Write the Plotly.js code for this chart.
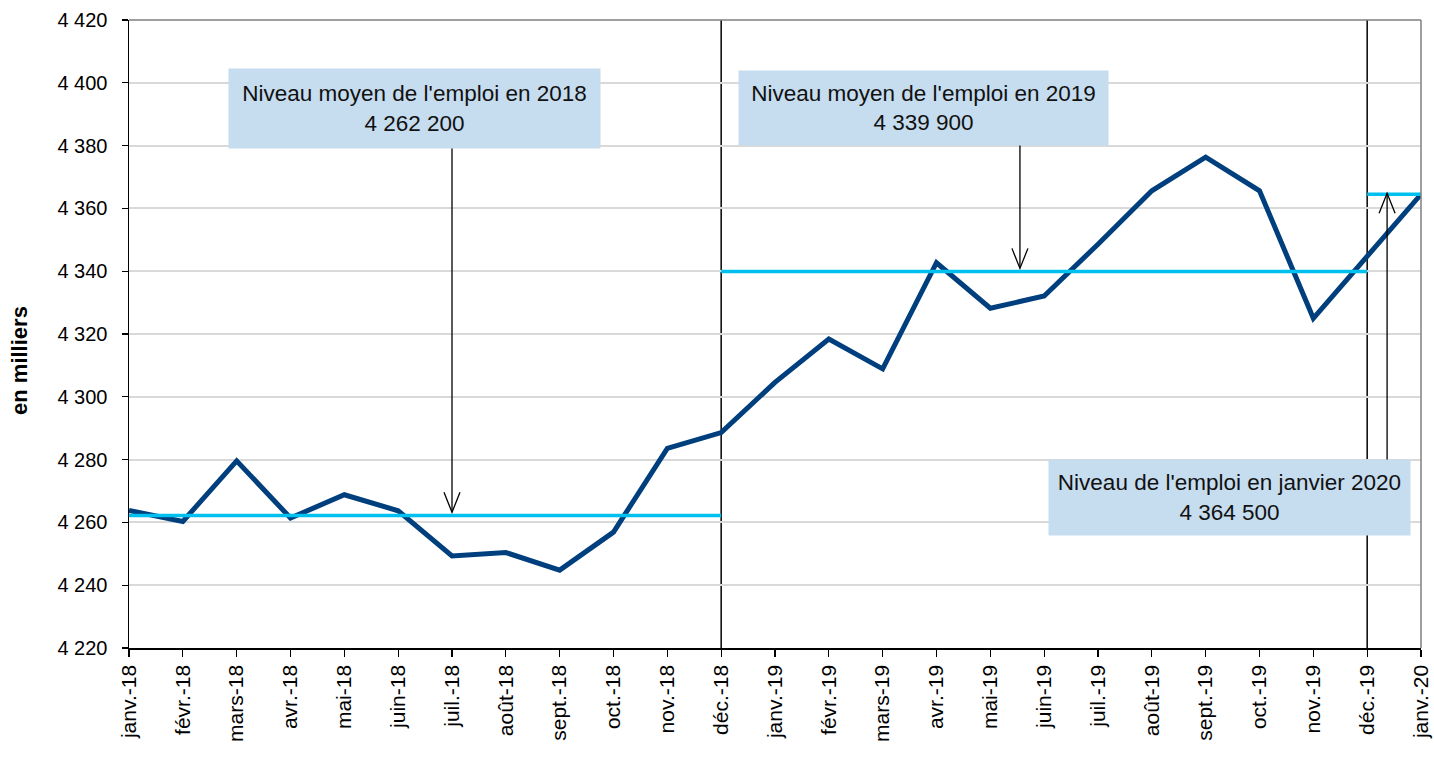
<!DOCTYPE html>
<html>
<head>
<meta charset="utf-8">
<script src="https://cdn.plot.ly/plotly-3.0.1.min.js"></script>
<style>html,body{margin:0;padding:0;background:#fff;}#chart{width:1434px;height:762px;}</style>
</head>
<body>
<div id="chart"></div>
<script>
// ---- data ----
const months = ["janv.-18","févr.-18","mars-18","avr.-18","mai-18","juin-18","juil.-18","août-18","sept.-18","oct.-18","nov.-18","déc.-18",
  "janv.-19","févr.-19","mars-19","avr.-19","mai-19","juin-19","juil.-19","août-19","sept.-19","oct.-19","nov.-19","déc.-19","janv.-20"];
const emploi = [4263.8,4260.3,4279.6,4261.4,4268.8,4263.7,4249.3,4250.4,4244.8,4256.9,4283.6,4288.6,
  4304.6,4318.4,4308.9,4342.7,4328.2,4332.1,4348.6,4365.6,4376.3,4365.6,4325.0,4345.0,4364.5];
const mean2018 = 4262.2;
const mean2019 = 4339.9;
const level2020 = 4364.5;
const yTicks = [4220,4240,4260,4280,4300,4320,4340,4360,4380,4400,4420];
const boxTexts = ["Niveau moyen de l'emploi en 2018<br>4 262 200",
                  "Niveau moyen de l'emploi en 2019<br>4 339 900",
                  "Niveau de l'emploi en janvier 2020<br>4 364 500"];

const FONT = "Liberation Sans, Arial, Helvetica, sans-serif";
const NAVY = "#003f7d";
const CYAN = "#00c0ef";
const BOXC = "#c6dcef";

const traces = [
  {x: months, y: emploi, type: "scatter", mode: "lines", line: {color: NAVY, width: 5}, hoverinfo: "x+y"},
  {x: [months[0], months[11]], y: [mean2018, mean2018], type: "scatter", mode: "lines", line: {color: CYAN, width: 3.5}},
  {x: [months[11], months[23]], y: [mean2019, mean2019], type: "scatter", mode: "lines", line: {color: CYAN, width: 3.5}},
  {x: [months[23], months[24]], y: [level2020, level2020], type: "scatter", mode: "lines", line: {color: CYAN, width: 3.5}}
];

// arrows: [x index, y from, y tip]
const arrows = [
  {x: 6, y0: 4380.8, y1: mean2018 + 1, dir: -1},
  {x: 16.55, y0: 4381.8, y1: mean2019 + 1, dir: -1},
  {x: 23.37, y0: 4279.9, y1: level2020 + 0.3, dir: 1}
];

const shapes = [
  {type: "line", xref: "x", yref: "paper", x0: months[11], x1: months[11], y0: 0, y1: 1, line: {color: "#000", width: 1.5}, layer: "below"},
  {type: "line", xref: "x", yref: "paper", x0: months[23], x1: months[23], y0: 0, y1: 1, line: {color: "#000", width: 1.5}, layer: "below"},
  {type: "line", xref: "paper", yref: "paper", x0: 0, x1: 1, y0: 1, y1: 1, line: {color: "#7f7f7f", width: 1.5}, layer: "above"},
  {type: "line", xref: "paper", yref: "paper", x0: 1, x1: 1, y0: 0, y1: 1, line: {color: "#7f7f7f", width: 1.5}, layer: "above"}
];
arrows.forEach(a => {
  shapes.push({type: "line", xref: "x", yref: "y", x0: a.x, x1: a.x, y0: a.y0, y1: a.y1, line: {color: "#000", width: 1.3}, layer: "above"});
  const h = 20 * (a.dir < 0 ? 1 : -1);
  shapes.push({type: "path", xref: "x", yref: "y", xsizemode: "pixel", ysizemode: "pixel",
    xanchor: a.x, yanchor: a.y1, path: "M -8 " + h + " L 0 0 L 8 " + h,
    line: {color: "#000", width: 1.3}, layer: "above"});
});

const boxFont = {family: FONT, size: 22.5, color: "#111"};
const annotations = [
  {xref: "x", yref: "y", x: 5.30, y: 4391.8, text: boxTexts[0], showarrow: false, bgcolor: BOXC, width: 371, height: 79, borderpad: 0, font: boxFont, align: "center"},
  {xref: "x", yref: "y", x: 14.76, y: 4392.0, text: boxTexts[1], showarrow: false, bgcolor: BOXC, width: 369, height: 74, borderpad: 0, font: boxFont, align: "center"},
  {xref: "x", yref: "y", x: 20.44, y: 4267.9, text: boxTexts[2], showarrow: false, bgcolor: BOXC, width: 361, height: 75, borderpad: 0, font: boxFont, align: "center"},
  {xref: "paper", yref: "paper", x: -0.0844, y: 0.4586, text: "<b>en milliers</b>", showarrow: false, textangle: -90,
   font: {family: FONT, size: 22, color: "#000"}, xanchor: "center", yanchor: "middle"}
];

const layout = {
  width: 1434, height: 762,
  margin: {l: 129, r: 13, t: 20, b: 114, pad: 0},
  paper_bgcolor: "#fff", plot_bgcolor: "#fff",
  showlegend: false,
  separators: ", ",
  font: {family: FONT, color: "#000"},
  xaxis: {
    type: "category", range: [0, 24], showgrid: false, zeroline: false,
    showline: true, linecolor: "#000", linewidth: 1.5,
    ticks: "outside", ticklen: 7, tickcolor: "#000", tickwidth: 1.3,
    tickangle: -90, tickfont: {family: FONT, size: 21, color: "#000"}, fixedrange: true
  },
  yaxis: {
    range: [4220, 4420], tickvals: yTicks, tickformat: ",d",
    showgrid: true, gridcolor: "#d9d9d9", gridwidth: 2, zeroline: false,
    showline: true, linecolor: "#000", linewidth: 1.5,
    ticks: "outside", ticklen: 6, tickcolor: "#000", tickwidth: 1.3,
    ticklabelstandoff: 10,
    tickfont: {family: FONT, size: 20, color: "#000"}, fixedrange: true
  },
  shapes: shapes,
  annotations: annotations
};

Plotly.newPlot("chart", traces, layout, {displayModeBar: false, staticPlot: true});
</script>
</body>
</html>
